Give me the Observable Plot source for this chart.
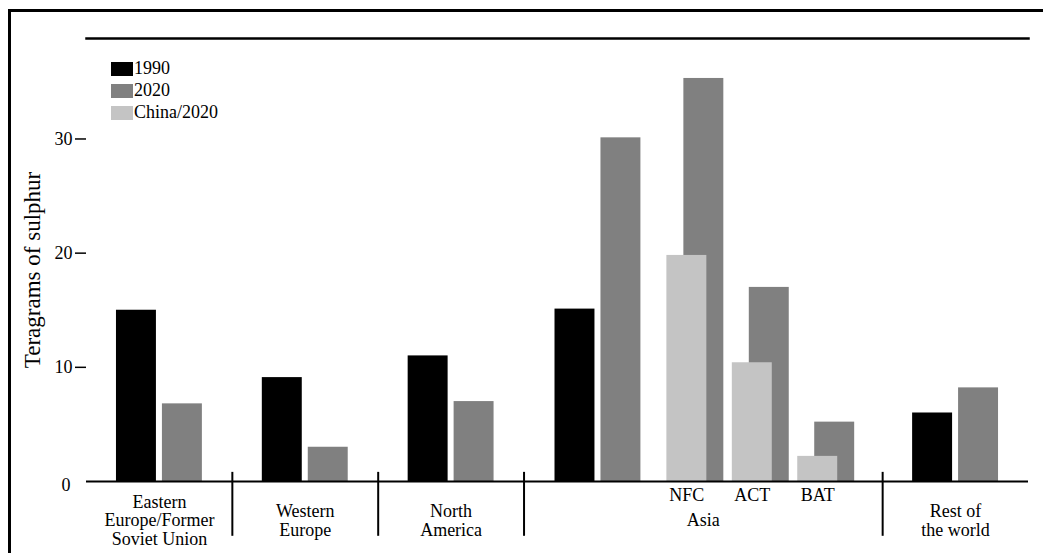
<!DOCTYPE html>
<html>
<head>
<meta charset="utf-8">
<script src="https://cdn.jsdelivr.net/npm/d3@7"></script>
<script src="https://cdn.jsdelivr.net/npm/@observablehq/plot@0.6"></script>
<style>
  html, body { margin: 0; padding: 0; background: #ffffff; }
  #wrap { position: relative; width: 1043px; height: 553px; overflow: hidden; font-family: "Liberation Serif", serif; }
  #wrap > svg { position: absolute; left: 0; top: 0; }
  #border { position: absolute; left: 8px; top: 9px; right: -5px; bottom: -5px; border-top: 3px solid #000; border-left: 3px solid #000; pointer-events: none; }
  #legend { position: absolute; left: 111px; top: 58px; }
  #legend svg { margin-right: 1px !important; }
</style>
</head>
<body>
<div id="wrap"><div id="legend"></div><div id="border"></div></div>
<script>
// ---- data ----
const regions = ["Eastern\nEurope/Former\nSoviet Union", "Western\nEurope", "North\nAmerica", "Asia", "Rest of\nthe world"];
const series1990 = [15.0, 9.1, 11.0, 15.1, 6.0];
const series2020 = [6.8, 3.0, 7.0, 30.1, 8.2];
const scenarios = ["NFC", "ACT", "BAT"];
const asia2020ByScenario = [35.3, 17.0, 5.2];
const china2020ByScenario = [19.8, 10.4, 2.2];
const seriesNames = ["1990", "2020", "China/2020"];
const seriesColors = ["#000000", "#808080", "#c4c4c4"];
const yTicks = [10, 20, 30];
const yTitle = "Teragrams of sulphur";

// ---- layout (in x-scale units) ----
const BAR = 40, PAIR_GAP = 6, REGION_W = 146;
const ASIA_W = 359, ASIA_PAD = 31, SUB_GAP = 26, SUB_STEP = 65.5, SUB_OFFSET = 17;

const mainBars = [], scen2020 = [], chinaBars = [], scenLabels = [], regionLabels = [], dividers = [];
let cursor = 0;
regions.forEach((r, i) => {
  const isAsia = r === "Asia";
  const w = isAsia ? ASIA_W : REGION_W;
  const start = isAsia ? cursor + ASIA_PAD : cursor + (w - (2 * BAR + PAIR_GAP)) / 2;
  mainBars.push({x1: start, x2: start + BAR, value: series1990[i], series: seriesNames[0]});
  mainBars.push({x1: start + BAR + PAIR_GAP, x2: start + 2 * BAR + PAIR_GAP, value: series2020[i], series: seriesNames[1]});
  if (isAsia) {
    const s = start + 2 * BAR + PAIR_GAP + SUB_GAP;
    scenarios.forEach((sc, j) => {
      const c = s + j * SUB_STEP;
      scen2020.push({x1: c + SUB_OFFSET, x2: c + SUB_OFFSET + BAR, value: asia2020ByScenario[j], series: seriesNames[1]});
      chinaBars.push({x1: c, x2: c + BAR, value: china2020ByScenario[j], series: seriesNames[2]});
      scenLabels.push({x: c + BAR / 2, label: sc});
    });
  }
  regionLabels.push({x: cursor + w / 2, label: r});
  cursor += w;
  if (i < regions.length - 1) dividers.push(cursor);
});
const total = cursor;

const font = "Liberation Serif";
const plot = Plot.plot({
  width: 1043,
  height: 553,
  marginLeft: 86,
  marginRight: 15,
  marginTop: 38,
  marginBottom: 72,
  style: {fontFamily: font, fontSize: "18px", background: "transparent", color: "#000"},
  x: {domain: [0, total], axis: null},
  y: {domain: [0, 38.8], axis: null},
  color: {type: "ordinal", domain: seriesNames, range: seriesColors},
  marks: [
    Plot.rectY(mainBars, {x1: "x1", x2: "x2", y: "value", fill: "series"}),
    Plot.rectY(scen2020, {x1: "x1", x2: "x2", y: "value", fill: "series"}),
    Plot.rectY(chinaBars, {x1: "x1", x2: "x2", y: "value", fill: "series"}),
    Plot.ruleY([0], {stroke: "#000", strokeWidth: 2}),
    Plot.frame({anchor: "top", stroke: "#000", strokeWidth: 2.5}),
    Plot.ruleX(dividers, {y1: d => 0.8, y2: d => -4.8, stroke: "#000", strokeWidth: 2}),
    Plot.axisY(yTicks, {tickSize: 11, tickPadding: 3, fontSize: 18, label: null, stroke: "#000", strokeWidth: 1.5}),
    Plot.axisY([0], {tickSize: 0, tickPadding: 16, fontSize: 18, label: null, dy: 4}),
    Plot.text([yTitle], {frameAnchor: "left", textAnchor: "middle", rotate: -90, dx: -54, dy: 10, fontSize: 23, fill: "#000"}),
    Plot.text(scenLabels, {x: "x", y: d => 0, text: "label", dy: 14, fontSize: 18, fill: "#000"}),
    Plot.text(regionLabels, {x: "x", y: d => 0, text: "label", dy: 39, lineAnchor: "middle", lineHeight: 1.03, fontSize: 18, fill: "#000"})
  ]
});
const wrap = document.getElementById("wrap");
wrap.insertBefore(plot, wrap.firstChild);

const legend = plot.legend("color", {
  columns: 1,
  swatchWidth: 22,
  swatchHeight: 14,
  style: {fontFamily: font, fontSize: "18px", color: "#000", background: "transparent"}
});
document.getElementById("legend").appendChild(legend);
</script>
</body>
</html>
